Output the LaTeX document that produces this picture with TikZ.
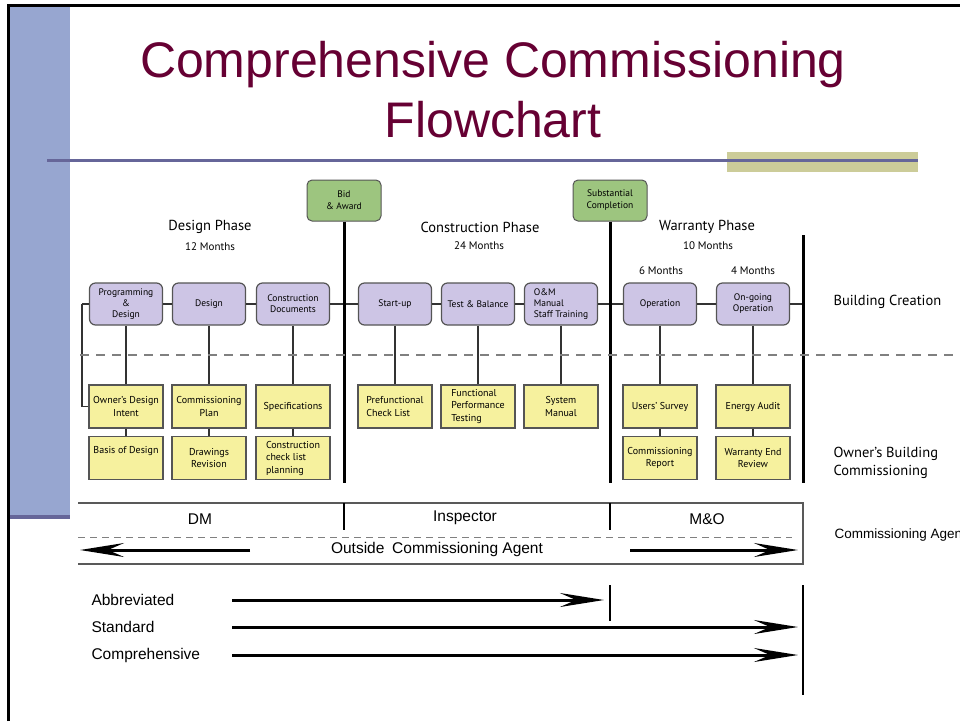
\documentclass[tikz,border=0pt]{standalone}
\usepackage{fontspec}
\setmainfont{PT Sans}
\newfontfamily\arialfont{Liberation Sans}
\usetikzlibrary{arrows.meta}
\definecolor{titlered}{RGB}{102,0,51}
\definecolor{slideblue}{RGB}{151,166,208}
\definecolor{slidepurple}{RGB}{102,102,153}
\definecolor{slideolive}{RGB}{204,204,153}
\definecolor{stagegreen}{RGB}{157,197,127}
\definecolor{phaselilac}{RGB}{205,197,229}
\definecolor{taskyellow}{RGB}{246,241,158}
\definecolor{edgegray}{RGB}{85,85,85}
\begin{document}
\begin{tikzpicture}[x=1pt,y=-1pt,
  milestone/.style={draw=edgegray,fill=stagegreen,rounded corners=5pt,
    minimum width=74pt,minimum height=41pt,align=center,inner sep=1pt,
    font=\fontsize{9.5}{12}\selectfont,line width=1pt},
  phasebox/.style={draw=edgegray,fill=phaselilac,rounded corners=6pt,
    minimum width=73pt,minimum height=42pt,align=center,inner sep=1pt,
    font=\fontsize{9.5}{11}\selectfont,line width=1.2pt},
  taskbox/.style={draw=edgegray,fill=taskyellow,
    minimum width=74pt,minimum height=43pt,align=center,inner sep=1pt,
    font=\fontsize{10}{12.5}\selectfont,line width=1.2pt},
  link/.style={draw=black!80,line width=1.5pt},
  gate/.style={draw=black,line width=3pt},
  splitline/.style={draw=gray,line width=1.3pt,dash pattern=on 9pt off 7pt},
  bandline/.style={draw=black!65,line width=1.5pt},
  bigarrow/.style={draw=black,line width=3pt,
    -{Stealth[length=44pt,width=14pt,inset=16pt]}},
  phasetitle/.style={font=\fontsize{14.5}{16}\selectfont},
  months/.style={font=\fontsize{11}{12}\selectfont},
  sidelabel/.style={anchor=west,align=left,font=\fontsize{14.5}{18}\selectfont},
  arialtext/.style={font=\arialfont\fontsize{15.5}{17}\selectfont}]
\useasboundingbox (0,0) rectangle (960,721);

% slide frame
\fill[slideblue] (10,7) rectangle (70,516);
\fill[slidepurple] (10,515) rectangle (70,519);
\fill[slideolive] (727,152) rectangle (918,172);
\fill[slidepurple] (47,158.5) rectangle (918,162);
\draw[black,line width=3pt] (8,721) -- (8,5) -- (960,5);
\node[font=\arialfont\fontsize{50}{60}\selectfont,text=titlered,align=center]
  (title) at (493,90) {Comprehensive Commissioning\\Flowchart};

% milestones
\node[milestone] (bid) at (344,200.5) {Bid\\\& Award};
\node[milestone] (sub) at (610,200.5) {Substantial\\Completion};

% phase titles
\node[phasetitle] (dph) at (210,227) {Design Phase};
\node[months] (dmo) at (210,247) {12 Months};
\node[phasetitle] (cph) at (480,227) {Construction Phase};
\node[months] (cmo) at (479,246) {24 Months};
\node[phasetitle] (wph) at (707,227) {Warranty Phase};
\node[months] (wmo) at (708,246) {10 Months};
\node[months] (smo) at (661,271) {6 Months};
\node[months] (fmo) at (753,271) {4 Months};

% building creation
\node[phasebox] (pd) at (126,304) {Programming\\\&\\Design};
\node[phasebox] (des) at (209,304) {Design};
\node[phasebox] (cd) at (293,304) {Construction\\Documents};
\node[phasebox] (su) at (395,304) {Start-up};
\node[phasebox] (tb) at (478,304) {Test \& Balance};
\node[phasebox,align=left] (om) at (561,304) {O\&M\\Manual\\Staff Training};
\node[phasebox] (op) at (660,304) {Operation};
\node[phasebox] (og) at (753,304) {On-going\\Operation};

% owner's commissioning
\node[taskbox] (odi) at (126,406.5) {Owner's Design\\Intent};
\node[taskbox] (cpl) at (209,406.5) {Commissioning\\Plan};
\node[taskbox] (spec) at (293,406.5) {Specifications};
\node[taskbox,align=left] (pfc) at (395,406.5) {Prefunctional\\Check List};
\node[taskbox,align=left] (fpt) at (478,406.5) {Functional\\Performance\\Testing};
\node[taskbox] (sys) at (561,406.5) {System\\Manual};
\node[taskbox] (usr) at (660,406.5) {Users' Survey};
\node[taskbox] (ena) at (753,406.5) {Energy Audit};
\node[taskbox] (bod) at (126,458) {Basis of Design\\\strut};
\node[taskbox] (drw) at (209,458) {Drawings\\Revision};
\node[taskbox,align=left] (ccl) at (293,458) {Construction\\check list\\planning};
\node[taskbox] (crp) at (660,458) {Commissioning\\Report};
\node[taskbox] (wer) at (753,458) {Warranty End\\Review};

\node[sidelabel] (bc) at (830,302) {Building Creation};
\node[sidelabel] (obc) at (830,463) {Owner's Building\\Commissioning};

% connectors
\coordinate (lft) at (82,304);
\coordinate (rgt) at (803,304);
\draw[link] (lft) -- (pd) -- (des) -- (cd) -- (su) -- (tb) -- (om)
  -- (op) -- (og) -- (rgt);
\draw[link] (lft) |- (odi.west);
\foreach \a/\b in {pd/odi,des/cpl,cd/spec,su/pfc,tb/fpt,om/sys,op/usr,og/ena,
  odi/bod,cpl/drw,spec/ccl,usr/crp,ena/wer}
  \draw[link] (\a) -- (\b);
\coordinate (bidend) at (344,483);
\coordinate (subend) at (610,483);
\coordinate (wtop) at (803,235);
\coordinate (wend) at (803,483);
\draw[gate] (bid.south) -- (bidend);
\draw[gate] (sub.south) -- (subend);
\draw[gate] (wtop) -- (wend);
\coordinate (dsl) at (80,355);
\coordinate (dsr) at (960,355);
\draw[splitline] (dsl) -- (dsr);

% commissioning agent band
\coordinate (bnw) at (78,503);
\coordinate (bne) at (803,503);
\coordinate (bse) at (803,564);
\coordinate (bsw) at (78,564);
\draw[bandline] (bnw) -- (bne) -- (bse) -- (bsw);
\draw[black,line width=2.5pt] (344,503) -- (344,530) (610,503) -- (610,530);
\draw[gray,line width=1pt,dash pattern=on 7pt off 5pt] (78,537) -- (792,537);
\node[arialtext] (dm) at (200,519) {DM};
\node[arialtext] (insp) at (465,518) {Inspector};
\node[arialtext] (mo) at (707,519) {M\&O};
\node[arialtext] (oca) at (437,549) {Outside\enspace Commissioning Agent};
\node[anchor=west,font=\arialfont\fontsize{13.5}{15}\selectfont] (cag)
  at (831,535) {Commissioning Agent};
\coordinate (ocaltail) at (250,550);
\coordinate (ocaltip) at (80,550);
\coordinate (ocartail) at (630,550);
\coordinate (ocartip) at (798,550);
\draw[bigarrow] (ocaltail) -- (ocaltip);
\draw[bigarrow] (ocartail) -- (ocartip);

% service levels
\node[arialtext,anchor=west] (abbr) at (88,600) {Abbreviated};
\node[arialtext,anchor=west] (std) at (88,627) {Standard};
\node[arialtext,anchor=west] (comp) at (88,655) {Comprehensive};
\coordinate (abbrtail) at (232,600);
\coordinate (abbrtip) at (604,600);
\coordinate (stdtail) at (232,627);
\coordinate (stdtip) at (798,627);
\coordinate (comptail) at (232,655);
\coordinate (comptip) at (798,655);
\draw[bigarrow] (abbrtail) -- (abbrtip);
\draw[bigarrow] (stdtail) -- (stdtip);
\draw[bigarrow] (comptail) -- (comptip);
\draw[black,line width=2pt] (610,585) -- (610,621) (803,585) -- (803,695);
\end{tikzpicture}
\end{document}
